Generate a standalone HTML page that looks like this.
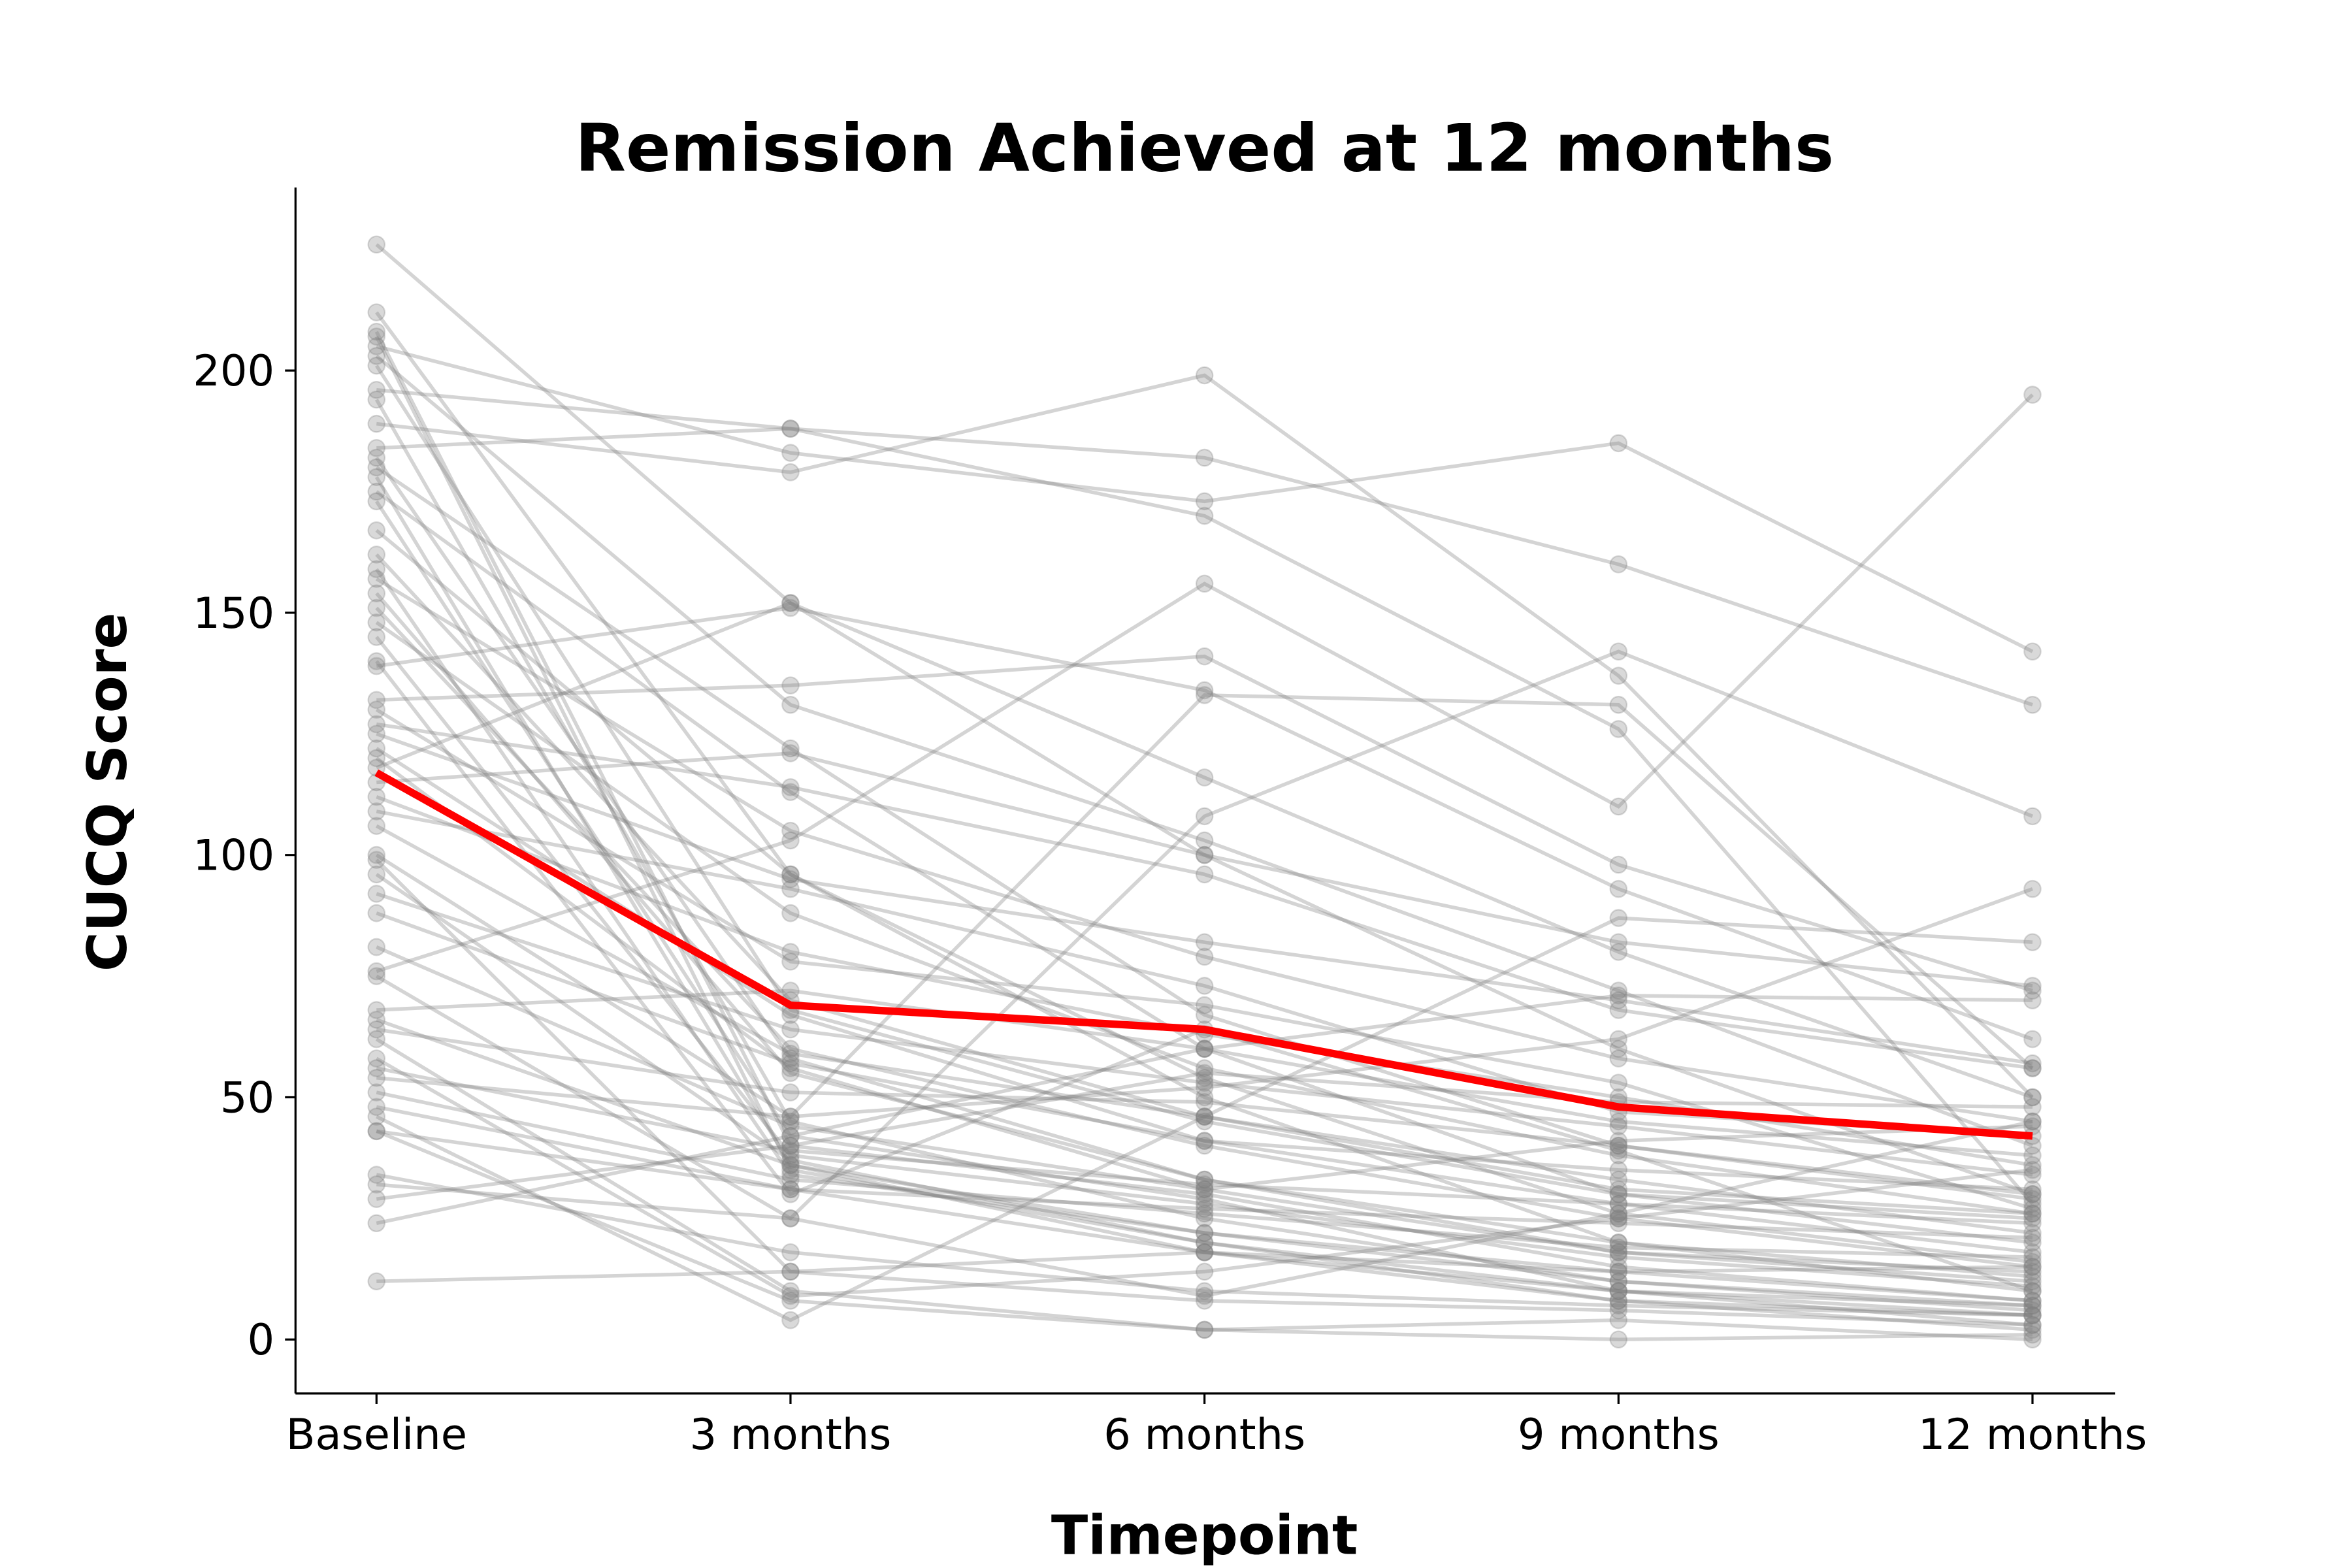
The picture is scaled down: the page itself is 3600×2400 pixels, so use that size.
<!DOCTYPE html>
<html><head><meta charset="utf-8"><style>
html,body{margin:0;padding:0;background:#fff;}
svg{display:block;}
text{font-family:"DejaVu Sans","Liberation Sans",sans-serif;}
</style></head><body>
<svg id="chart" width="3600" height="2400" viewBox="0 0 1568 1045.33" xmlns="http://www.w3.org/2000/svg">
<rect width="1568" height="1046" fill="#fff"/>
<g id="plot"></g>
<line x1="197" y1="125" x2="197" y2="929" stroke="#000" stroke-width="1.4"/>
<line x1="197" y1="929" x2="1410" y2="929" stroke="#000" stroke-width="1.4"/>
<g id="ticks"></g>
<text x="803" y="114" text-anchor="middle" font-size="44" font-weight="bold">Remission Achieved at 12 months</text>
<text x="803" y="1036" text-anchor="middle" font-size="36" font-weight="bold">Timepoint</text>
<text transform="translate(84,528) rotate(-90)" text-anchor="middle" font-size="36" font-weight="bold">CUCQ Score</text>
</svg>
<script>
const categories = ["Baseline","3 months","6 months","9 months","12 months"];
const yTicks = [0,50,100,150,200];
const meanValues = [117,69,64,48,42];
const subjects = [
[226,152,100,60,30],[212,96,50,20,10],[208,40,30,15,8],[207,35,20,10,5],
[205,183,173,185,142],[203,131,103,72,40],[201,68,45,30,25],[196,188,182,160,131],
[194,45,25,12,7],[189,179,199,137,50],[184,188,170,126,28],[182,58,33,18,12],
[180,122,67,40,30],[178,36,18,8,5],[175,113,60,30,20],[173,42,29,10,3],
[167,96,54,26,16],[162,70,46,33,22],[159,34,22,14,8],[157,105,79,58,45],
[154,55,33,20,13],[151,60,40,25,15],[148,88,56,38,26],[145,38,28,17,11],
[139,151,134,93,62],[132,135,141,98,72],[127,114,96,68,56],[125,95,82,70,57],
[122,67,41,28,18],[118,152,116,80,50],[115,121,100,82,73],[112,80,63,50,36],
[109,93,73,47,42],[106,59,46,31,26],[99,14,8,6,3],[96,37,20,8,2],
[92,64,53,44,34],[88,57,41,35,31],[81,44,31,18,14],[76,103,156,110,195],
[75,25,108,142,108],[68,72,60,45,38],[66,36,22,12,6],[64,51,49,40,29],
[62,10,2,0,1],[58,9,14,25,35],[56,39,32,28,24],[54,46,52,62,93],
[51,33,26,19,17],[48,31,18,10,7],[46,4,46,87,82],[43,31,27,24,21],
[43,8,2,4,0],[34,18,10,7,5],[32,25,9,26,45],[29,40,55,49,48],
[24,42,60,71,70],[12,14,18,14,15],[130,78,69,53,27],[120,56,31,41,44],
[140,30,64,39,10],[100,46,133,131,56]
];
const NS="http://www.w3.org/2000/svg";
function xScale(i){return 251+i*276;}
function yScale(v){return 893-v*3.23;}
const plot=document.getElementById('plot');
const ticks=document.getElementById('ticks');
subjects.forEach((row,s)=>{
  const g=document.createElementNS(NS,'g');
  
  
  const pl=document.createElementNS(NS,'polyline');
  pl.setAttribute('points',row.map((v,i)=>xScale(i)+','+yScale(v)).join(' '));
  pl.setAttribute('fill','none');pl.setAttribute('stroke','#7a7a7a');
  pl.setAttribute('stroke-opacity','0.32');pl.setAttribute('stroke-width','2.4');
  
  
  g.appendChild(pl);
  row.forEach((v,i)=>{
    const c=document.createElementNS(NS,'circle');
    c.setAttribute('cx',xScale(i));c.setAttribute('cy',yScale(v));c.setAttribute('r','5.5');
    c.setAttribute('fill','#808080');c.setAttribute('fill-opacity','0.3');
    c.setAttribute('stroke','#808080');c.setAttribute('stroke-opacity','0.3');
    
    
    g.appendChild(c);
  });
  plot.appendChild(g);
});
const ml=document.createElementNS(NS,'polyline');
ml.setAttribute('points',meanValues.map((v,i)=>xScale(i)+','+yScale(v)).join(' '));
ml.setAttribute('fill','none');ml.setAttribute('stroke','#ff0000');ml.setAttribute('stroke-width','5');
ml.setAttribute('stroke-linejoin','round');


plot.appendChild(ml);
yTicks.forEach(t=>{
  const l=document.createElementNS(NS,'line');
  l.setAttribute('x1',190);l.setAttribute('x2',197);l.setAttribute('y1',yScale(t));l.setAttribute('y2',yScale(t));
  l.setAttribute('stroke','#000');l.setAttribute('stroke-width','1.4');
  
  
  ticks.appendChild(l);
  const tx=document.createElementNS(NS,'text');
  tx.setAttribute('x',183);tx.setAttribute('y',yScale(t)+10);tx.setAttribute('text-anchor','end');tx.setAttribute('font-size','28.5');
  tx.textContent=t;
  
  
  ticks.appendChild(tx);
});
categories.forEach((c,i)=>{
  const l=document.createElementNS(NS,'line');
  l.setAttribute('x1',xScale(i));l.setAttribute('x2',xScale(i));l.setAttribute('y1',929);l.setAttribute('y2',936);
  l.setAttribute('stroke','#000');l.setAttribute('stroke-width','1.4');
  
  
  ticks.appendChild(l);
  const tx=document.createElementNS(NS,'text');
  tx.setAttribute('x',xScale(i));tx.setAttribute('y',966);tx.setAttribute('text-anchor','middle');tx.setAttribute('font-size','28.5');
  tx.textContent=c;
  
  
  ticks.appendChild(tx);
});
</script>
</body></html>
